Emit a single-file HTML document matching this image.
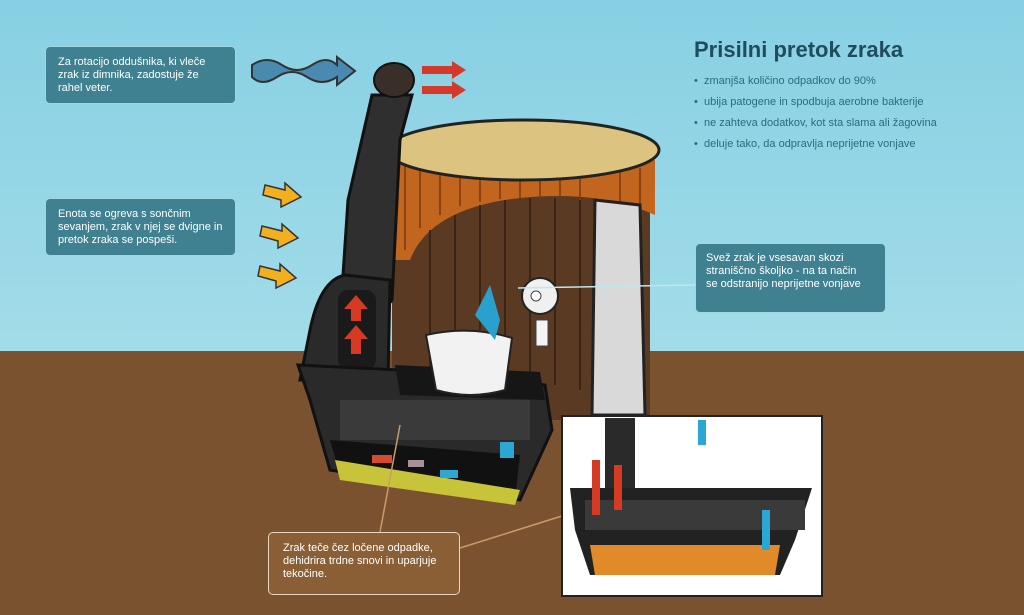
<!DOCTYPE html>
<html><head><meta charset="utf-8"><style>
body{margin:0;width:1024px;height:615px;overflow:hidden;font-family:"Liberation Sans",sans-serif}
.b{position:absolute;background:#3f8190;color:#fff;font-size:11px;line-height:13px;padding:9px 12px;border-radius:5px;border:1px solid #9fd6e0;box-sizing:border-box}
</style></head><body>
<svg width="1024" height="615" style="position:absolute;left:0;top:0">
<defs><linearGradient id="sky" x1="0" y1="0" x2="0" y2="1"><stop offset="0" stop-color="#86d0e3"/><stop offset="1" stop-color="#a3dce9"/></linearGradient></defs>
<rect width="1024" height="353" fill="url(#sky)"/>
<rect y="351" width="1024" height="264" fill="#7a5230"/>
<path d="M392 150 L392 420 L650 420 L650 160 Z" fill="#5a3a22"/>
<path d="M392 150 Q520 120 655 160 L655 215 Q600 190 520 198 Q430 208 410 260 L392 260 Z" fill="#c2651e"/>
<g stroke="#7a3a10" stroke-width="1.5"><line x1="405" y1="165" x2="405" y2="250"/><line x1="420" y1="165" x2="420" y2="228"/><line x1="440" y1="170" x2="440" y2="215"/><line x1="460" y1="172" x2="460" y2="206"/><line x1="480" y1="175" x2="480" y2="202"/><line x1="500" y1="176" x2="500" y2="199"/><line x1="520" y1="176" x2="520" y2="198"/><line x1="540" y1="176" x2="540" y2="198"/><line x1="560" y1="176" x2="560" y2="198"/><line x1="580" y1="175" x2="580" y2="200"/><line x1="620" y1="172" x2="620" y2="205"/><line x1="640" y1="168" x2="640" y2="210"/></g>
<path d="M595 200 L640 205 L645 415 L592 415 Z" fill="#d9d9d9" stroke="#222" stroke-width="3"/>
<g stroke="#3a2414" stroke-width="2">
<line x1="430" y1="230" x2="430" y2="390"/><line x1="455" y1="215" x2="455" y2="340"/><line x1="480" y1="205" x2="480" y2="330"/><line x1="505" y1="200" x2="505" y2="335"/><line x1="530" y1="198" x2="530" y2="380"/><line x1="555" y1="198" x2="555" y2="385"/><line x1="580" y1="200" x2="580" y2="390"/>
</g>
<ellipse cx="523" cy="150" rx="136" ry="30" fill="#dcc380" stroke="#222" stroke-width="3"/>
<path d="M372 95 L412 95 L400 140 L392 300 L360 340 L340 320 L348 200 Z" fill="#2f2f2f" stroke="#111" stroke-width="3"/>
<ellipse cx="394" cy="80" rx="20" ry="17" fill="#3a2e28" stroke="#111" stroke-width="2"/>
<path d="M310 330 Q320 280 345 275 L390 280 L388 380 L300 380 Z" fill="#2a2a2a" stroke="#111" stroke-width="3"/>
<rect x="338" y="290" width="38" height="80" rx="10" fill="#1a1a1a"/>
<path d="M356 295 l12 14 h-7 v12 h-10 v-12 h-7z M356 325 l12 14 h-7 v15 h-10 v-15 h-7z" fill="#d63a22"/>
<path d="M298 365 L400 370 L545 385 L552 430 L520 500 L330 470 L310 400 Z" fill="#2a2a2a" stroke="#111" stroke-width="3"/>
<path d="M395 365 L540 372 L545 400 L400 395 Z" fill="#161616"/>
<rect x="340" y="400" width="190" height="40" fill="#3a3a3a"/>
<path d="M330 440 L520 455 L515 500 L340 475 Z" fill="#111"/>
<path d="M335 460 L520 490 L515 505 L340 480 Z" fill="#c7c43a"/>
<rect x="372" y="455" width="20" height="8" fill="#d84a30"/><rect x="408" y="460" width="16" height="7" fill="#a98e9c"/><rect x="440" y="470" width="18" height="8" fill="#2aa7d2"/><rect x="500" y="442" width="14" height="16" fill="#2aa7d2"/>
<path d="M426 335 Q470 325 512 338 L505 390 Q470 400 436 390 Z" fill="#f2f2f2" stroke="#222" stroke-width="2"/>
<path d="M490 285 L475 315 L495 340 L500 320 Z" fill="#2aa0cc"/>
<ellipse cx="540" cy="296" rx="18" ry="18" fill="#f0f0f0" stroke="#222" stroke-width="2"/>
<circle cx="536" cy="296" r="5" fill="#fff" stroke="#444"/>
<rect x="536" y="320" width="12" height="26" fill="#f4f4f4" stroke="#444"/>
<path d="M252 65 q15 -10 30 0 t30 0 t25 0 l0 -8 l18 14 l-18 14 l0 -8 q-15 10 -30 0 t-30 0 t-25 0 z" fill="#4a8ab0" stroke="#333" stroke-width="2"/>
<g fill="#d43a2c"><path d="M422 66 h30 v-5 l14 9 l-14 9 v-5 h-30z"/><path d="M422 86 h30 v-5 l14 9 l-14 9 v-5 h-30z"/></g>
<g fill="#f0b020" stroke="#333" stroke-width="1.5"><path d="M265 185 l20 5 v-7 l16 14 l-20 10 v-7 l-18 -5z"/><path d="M262 226 l20 5 v-7 l16 14 l-20 10 v-7 l-18 -5z"/><path d="M260 266 l20 5 v-7 l16 14 l-20 10 v-7 l-18 -5z"/></g>
<line x1="518" y1="288" x2="695" y2="285" stroke="#bfe6ee" stroke-width="1.5"/>
<line x1="400" y1="425" x2="380" y2="532" stroke="#c79c6a" stroke-width="1.5"/>
<line x1="460" y1="548" x2="565" y2="515" stroke="#c79c6a" stroke-width="1.5"/>
<rect x="562" y="416" width="260" height="180" fill="#fff" stroke="#222" stroke-width="2"/>
<path d="M570 488 L812 488 L795 540 L780 575 L590 575 L575 530 Z" fill="#222"/>
<rect x="605" y="418" width="30" height="70" fill="#2a2a2a"/>
<rect x="585" y="500" width="220" height="30" fill="#3a3a3a"/>
<path d="M590 545 L780 545 L775 575 L595 575Z" fill="#e08a2a"/>
<g fill="#d63a22"><rect x="592" y="460" width="8" height="55"/><rect x="614" y="465" width="8" height="45"/></g>
<g fill="#2aa7d2"><rect x="698" y="420" width="8" height="25"/><rect x="762" y="510" width="8" height="40"/></g>
</svg>
<div class="b" style="left:45px;top:46px;width:191px;height:58px">Za rotacijo oddušnika, ki vleče zrak iz dimnika, zadostuje že rahel veter.</div>
<div class="b" style="left:45px;top:198px;width:191px;height:58px">Enota se ogreva s sončnim sevanjem, zrak v njej se dvigne in pretok zraka se pospeši.</div>
<div class="b" style="left:695px;top:243px;width:191px;height:70px;padding:8px 14px 8px 10px">Svež zrak je vsesavan skozi straniščno školjko - na ta način se odstranijo neprijetne vonjave</div>
<div class="b" style="left:268px;top:532px;width:192px;height:63px;background:#8a5f36;border-color:#e8d6c0;padding:9px 14px">Zrak teče čez ločene odpadke, dehidrira trdne snovi in uparjuje tekočine.</div>
<div style="position:absolute;left:694px;top:37px;color:#1f4d5e;font-size:22px;font-weight:bold">Prisilni pretok zraka</div>
<div style="position:absolute;left:694px;top:71px;color:#2a6c7c;font-size:11px;line-height:21px">
• &nbsp;zmanjša količino odpadkov do 90%<br>• &nbsp;ubija patogene in spodbuja aerobne bakterije<br>• &nbsp;ne zahteva dodatkov, kot sta slama ali žagovina<br>• &nbsp;deluje tako, da odpravlja neprijetne vonjave</div>
</body></html>
